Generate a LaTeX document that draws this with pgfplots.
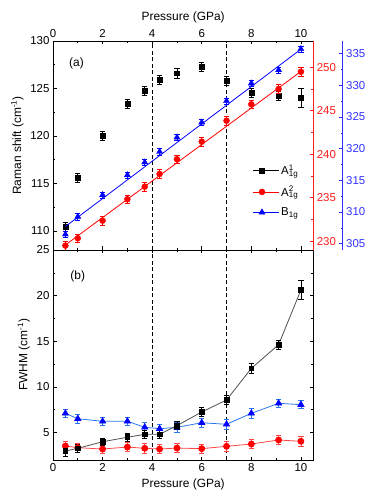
\documentclass[border=0pt]{standalone}
\usepackage{fontspec}
\setmainfont{Liberation Sans}
\usepackage{pgfplots}
\usepackage{pgfplotstable}
\pgfplotsset{compat=1.18}

\definecolor{pblue}{RGB}{0,0,255}
\definecolor{pred}{RGB}{255,0,0}
\definecolor{ablue}{RGB}{50,50,255}
\definecolor{ared}{RGB}{255,30,30}
\definecolor{lblue}{RGB}{40,120,235}
\definecolor{lred}{RGB}{255,70,70}
\definecolor{lgray}{RGB}{80,80,80}

\newcommand{\Aone}{A\rlap{\textsuperscript{1}}\textsubscript{1g}}
\newcommand{\Atwo}{A\rlap{\textsuperscript{2}}\textsubscript{1g}}
\newcommand{\Bone}{B\textsubscript{1g}}

% p: pressure; ra/rb/rc: Raman shift of A1g^1 / A1g^2 / B1g; wa/wb/wc: FWHM
\pgfplotstableread{
p    ra     era  rb     erb  rc     erc  wa    ewa  wb    ewb  wc    ewc
0.5  110.45 0.5  229.50 0.5  306.48 0.5  2.98  0.6  3.53  0.5  7.11  0.45
1    115.60 0.5  230.35 0.5  309.26 0.5  3.28  0.45 3.35  0.5  6.52  0.45
2    120.00 0.5  232.37 0.5  312.68 0.5  4.00  0.4  3.20  0.5  6.24  0.45
3    123.40 0.5  234.83 0.5  315.84 0.5  4.49  0.45 3.42  0.5  6.24  0.45
3.7  124.77 0.5  236.27 0.5  317.85 0.5  4.81  0.45 3.28  0.5  5.58  0.5
4.3  125.90 0.5  237.73 0.5  319.52 0.5  4.81  0.45 3.20  0.5  5.43  0.5
5    126.60 0.5  239.42 0.5  321.79 0.5  5.76  0.45 3.31  0.5  5.58  0.5
6    127.30 0.5  241.44 0.5  324.16 0.5  7.26  0.5  3.24  0.5  6.08  0.5
7    125.80 0.5  243.85 0.5  327.53 0.5  8.57  0.5  3.50  0.5  5.91  0.5
8    124.56 0.5  245.73 0.5  330.32 0.5  12.04 0.55 3.75  0.5  7.11  0.5
9.1  124.24 0.5  247.49 0.5  332.42 0.5  14.63 0.5  4.19  0.5  8.21  0.45
10   124.07 1.0  249.47 0.5  335.74 0.5  20.62 1.05 4.05  0.5  8.06  0.45
}\data

\pgfplotsset{
  base/.style={
    scale only axis, width=260.3bp,
    xmin=0, xmax=10.5,
    xtick={0,2,...,10}, minor x tick num=1,
    tick align=inside,
    major tick length=3.5bp, minor tick length=2bp,
    every tick/.style={line width=0.6pt},
    axis line style={line width=0.7pt},
    tick label style={font=\fontsize{11.5}{13}\selectfont},
    label style={font=\fontsize{12}{14}\selectfont},
    /pgf/number format/assume math mode=true,
    clip=false,
  },
  ebar/.style={error bars/.cd, y dir=both, y explicit,
    error bar style={line width=0.6pt, #1},
    error mark options={rotate=90, mark size=2.6bp, line width=0.6pt, #1}},
  widelegimg/.style={legend image code/.code={%
    \path (0cm,0cm) -- (0.9cm,0cm);
    \draw[##1] plot coordinates {(0.3cm,0cm)};}},
}

\begin{document}
\begin{tikzpicture}
\useasboundingbox (0,0) rectangle (374bp,504bp);

% ---------- panel (a), left axis ----------
\begin{axis}[base, at={(53bp,254bp)}, anchor=south west, height=209bp,
  ymin=108, ymax=130, ytick={110,115,...,130}, minor y tick num=1,
  axis x line*=box, axis y line*=left,
  x axis line style={-}, y axis line style={-},
  ytick pos=left, xtick pos=both, xticklabel pos=upper,
  xlabel={Pressure (GPa)}, ylabel={Raman shift (cm\textsuperscript{-1})},
  legend style={at={(axis cs:7.95,117.4)}, anchor=north west, draw=none, fill=none,
    font=\fontsize{11.5}{13}\selectfont, row sep=6bp},
  legend cell align=left,
]
\addplot[black, only marks, mark=square*, mark size=2.4bp, widelegimg, ebar=black]
  table[x=p, y=ra, y error=era] {\data};
\addlegendentry{\Aone}
\addlegendimage{only marks, mark=*, mark size=3bp, pred, widelegimg}
\addlegendentry{\Atwo}
\addlegendimage{only marks, mark=triangle*, mark size=3.5bp, pblue, widelegimg}
\addlegendentry{\Bone}
\addplot[black, dashed, dash pattern=on 4bp off 2.5bp, line width=0.9pt, forget plot]
  coordinates {(4,108) (4,130)};
\addplot[black, dashed, dash pattern=on 4bp off 2.5bp, line width=0.9pt, forget plot]
  coordinates {(7,108) (7,130)};
\node[font=\fontsize{12}{14}\selectfont] at (axis cs:0.95,127.65) {(a)};
\end{axis}

% ---------- panel (a), red right axis ----------
\begin{axis}[base, at={(53bp,254bp)}, anchor=south west, height=209bp,
  ymin=229, ymax=253, ytick={230,235,...,250}, minor y tick num=1,
  hide x axis, axis y line*=right, y axis line style={-, ared},
  ytick pos=right, yticklabel pos=right,
  every y tick/.append style={ared}, every minor y tick/.append style={ared},
  yticklabel style={ared},
]
\addplot[pred, line width=0.8pt] coordinates {(0.5,229.58) (10,249.5)};
\addplot[pred, only marks, mark=*, mark size=3bp, ebar=pred]
  table[x=p, y=rb, y error=erb] {\data};
\end{axis}

% ---------- panel (a), blue right axis (offset) ----------
\begin{axis}[base, at={(53bp,254bp)}, anchor=south west, height=209bp,
  width=289.7bp, xmin=0, xmax=11.686,
  ymin=304, ymax=337, ytick={305,310,...,335}, minor y tick num=1,
  hide x axis, axis y line*=right, y axis line style={-, ablue},
  ytick pos=right, yticklabel pos=right,
  every y tick/.append style={ablue}, every minor y tick/.append style={ablue},
  yticklabel style={ablue},
]
\addplot[pblue, line width=0.8pt] coordinates {(0.5,307.7) (10,335.7)};
\addplot[pblue, only marks, mark=triangle*, mark size=3.5bp, ebar=pblue]
  table[x=p, y=rc, y error=erc] {\data};
\end{axis}

% ---------- panel (b) ----------
\begin{axis}[base, at={(53bp,44bp)}, anchor=south west, height=210bp,
  ymin=2, ymax=25, ytick={5,10,...,25}, minor y tick num=1,
  xlabel={Pressure (GPa)}, ylabel={FWHM (cm\textsuperscript{-1})},
]
\addplot[black, dashed, dash pattern=on 4bp off 2.5bp, line width=0.9pt, forget plot]
  coordinates {(4,2) (4,25)};
\addplot[black, dashed, dash pattern=on 4bp off 2.5bp, line width=0.9pt, forget plot]
  coordinates {(7,2) (7,25)};
\addplot[lred, line width=0.8pt, mark=*, mark size=3bp,
  mark options={pred, fill=pred}, ebar=lred]
  table[x=p, y=wb, y error=ewb] {\data};
\addplot[lblue, line width=0.8pt, mark=triangle*, mark size=3.5bp,
  mark options={pblue, fill=pblue}, ebar=lblue]
  table[x=p, y=wc, y error=ewc] {\data};
\addplot[lgray, line width=0.8pt, mark=square*, mark size=2.4bp,
  mark options={black, fill=black}, ebar=black]
  table[x=p, y=wa, y error=ewa] {\data};
\node[font=\fontsize{12}{14}\selectfont] at (axis cs:1.0,22.1) {(b)};
\end{axis}
\end{tikzpicture}
\end{document}
